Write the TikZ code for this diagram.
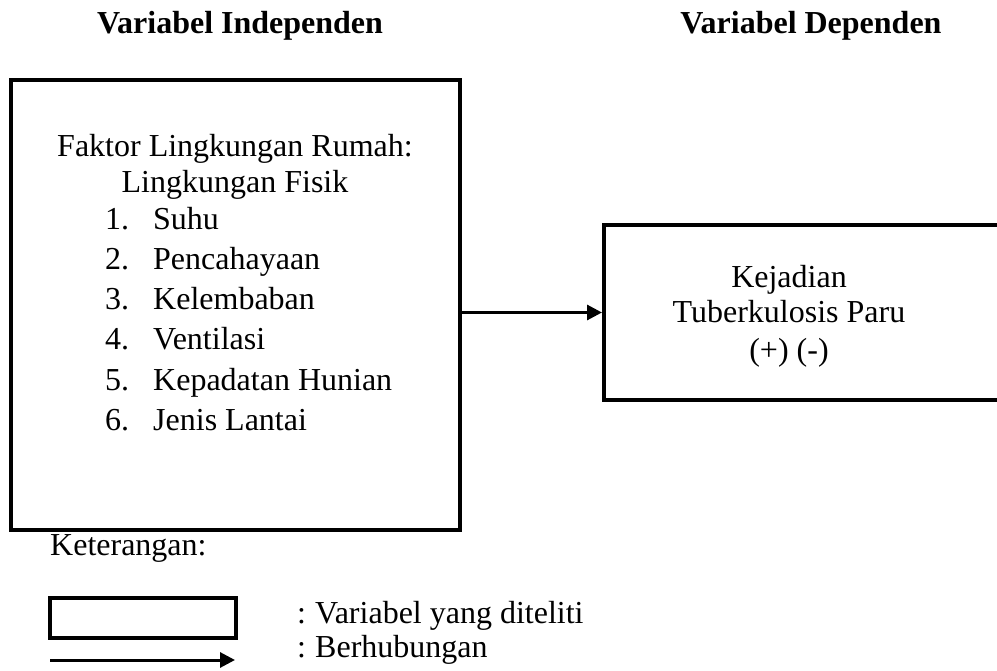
\documentclass[tikz,border=0pt]{standalone}
\usepackage{fontspec}
\setmainfont{Liberation Serif}
\usetikzlibrary{arrows.meta}
\begin{document}
\begin{tikzpicture}[x=1pt,y=-1pt,
  box/.style={draw, line width=4pt, inner sep=0pt},
  txt/.style={font=\fontsize{32}{36}\selectfont, inner sep=0pt, anchor=base},
  itm/.style={txt, anchor=base west},
  hdr/.style={font=\fontsize{32}{36}\selectfont\bfseries, inner sep=0pt, anchor=base},
  conn/.style={line width=3pt, -{Triangle[length=15pt,width=15pt]}}]
\clip (0,0) rectangle (997,671);
% headers
\node[hdr] (h1) at (240,34) {Variabel Independen};
\node[hdr] (h2) at (811,34) {Variabel Dependen};
% boxes
\node[box, minimum width=449pt, minimum height=450pt] (indep) at (235.5,305) {};
\node[box, minimum width=416pt, minimum height=175pt] (dep) at (812,312.5) {};
% left box text
\node[txt] (f1) at (235,157) {Faktor Lingkungan Rumah:};
\node[txt] (f2) at (235,193) {Lingkungan Fisik};
\node[itm] (n1) at (105,230) {1.}; \node[itm] (i1) at (153,230) {Suhu};
\node[itm] (n2) at (105,270) {2.}; \node[itm] (i2) at (153,270) {Pencahayaan};
\node[itm] (n3) at (105,310) {3.}; \node[itm] (i3) at (153,310) {Kelembaban};
\node[itm] (n4) at (105,350) {4.}; \node[itm] (i4) at (153,350) {Ventilasi};
\node[itm] (n5) at (105,390) {5.}; \node[itm] (i5) at (153,390) {Kepadatan Hunian};
\node[itm] (n6) at (105,430) {6.}; \node[itm] (i6) at (153,430) {Jenis Lantai};
% right box text
\node[txt] (d1) at (789,288) {Kejadian};
\node[txt] (d2) at (789,323) {Tuberkulosis Paru};
\node[txt] (d3) at (789,360) {(+) (-)};
% connector
\draw[conn] (dep.west -| indep.east) -- (dep.west);
% legend
\node[itm] (ket) at (50,555) {Keterangan:};
\node[box, minimum width=186pt, minimum height=40pt] (lbox) at (143,618) {};
\coordinate (la) at (50,660);
\coordinate (lb) at (235,660);
\draw[conn] (la) -- (lb);
\node[itm] (c1) at (297,623) {:};
\node[itm] (t1) at (315,623) {Variabel yang diteliti};
\node[itm] (c2) at (297,657) {:};
\node[itm] (t2) at (315,657) {Berhubungan};
\end{tikzpicture}
\end{document}
